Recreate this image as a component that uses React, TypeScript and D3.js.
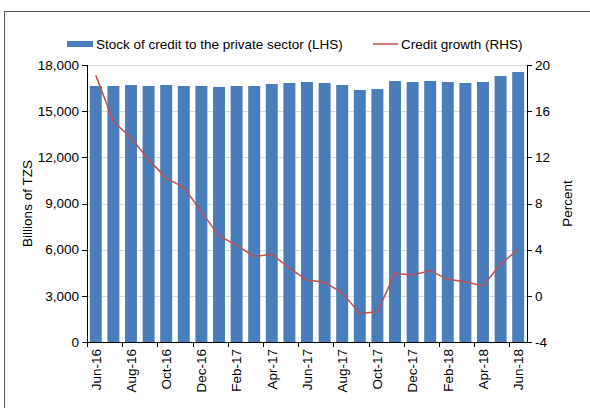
import React from "react";
import * as d3 from "d3";

const months = [
  "Jun-16","Jul-16","Aug-16","Sep-16","Oct-16","Nov-16","Dec-16",
  "Jan-17","Feb-17","Mar-17","Apr-17","May-17","Jun-17","Jul-17","Aug-17","Sep-17","Oct-17","Nov-17","Dec-17",
  "Jan-18","Feb-18","Mar-18","Apr-18","May-18","Jun-18",
];
const creditStock = [
  16635, 16635, 16700, 16635, 16700, 16635, 16635,
  16570, 16635, 16635, 16765, 16830, 16895, 16830, 16700, 16375, 16440, 16960, 16895,
  16960, 16895, 16830, 16895, 17285, 17545,
];
const creditGrowth = [
  19.1, 15.1, 13.7, 11.8, 10.2, 9.4, 7.3,
  5.2, 4.4, 3.4, 3.6, 2.4, 1.37, 1.17, 0.27, -1.52, -1.38, 1.95, 1.8,
  2.18, 1.43, 1.22, 0.85, 2.75, 4.03,
];
const leftTicks = [0, 3000, 6000, 9000, 12000, 15000, 18000];
const rightTicks = [-4, 0, 4, 8, 12, 16, 20];

const W = 590, H = 408;
const L = 87, R = 527, T = 65, B = 342;
const FONT = "'Liberation Sans', Arial, Helvetica, sans-serif";
const FS = 13.5;

export default function App() {
  const x = d3.scaleBand<string>().domain(months).range([L, R]).paddingInner(0.32).paddingOuter(0.16);
  const yL = d3.scaleLinear().domain([0, 18000]).range([B, T]);
  const yR = d3.scaleLinear().domain([-4, 20]).range([B, T]);
  const step = x.step();
  const cx = (m: string) => (x(m) as number) + x.bandwidth() / 2;
  const line = d3.line<number>()
    .x((_, i) => cx(months[i]))
    .y((d) => yR(d));
  const fmt = d3.format(",");
  const xTickIdx = months.map((_, i) => i).filter((i) => i % 2 === 0);

  return (
    <svg width={W} height={H} style={{ position: "absolute", left: 0, top: 0, background: "#fff" }} fontFamily={FONT}>
      <rect x={4.5} y={11.5} width={W + 10} height={H + 10} fill="#fff" stroke="#555" strokeWidth={1} />
      {leftTicks.slice(1).map((t) => (
        <line key={t} x1={L} x2={R} y1={Math.round(yL(t)) + 0.5} y2={Math.round(yL(t)) + 0.5} stroke="#d9d9d9" strokeWidth={1} />
      ))}
      {months.map((m, i) => (
        <rect key={m} x={x(m)} y={yL(creditStock[i])} width={x.bandwidth()} height={B - yL(creditStock[i])} fill="#4A7EBB" />
      ))}
      <path d={line(creditGrowth) || ""} fill="none" stroke="#C0504D" strokeWidth={1.5} />
      <line x1={L + 0.5} x2={L + 0.5} y1={T} y2={B} stroke="#000" />
      {leftTicks.map((t) => (
        <g key={t}>
          <line x1={L - 5} x2={L} y1={Math.round(yL(t)) + 0.5} y2={Math.round(yL(t)) + 0.5} stroke="#000" />
          <text x={L - 8} y={yL(t)} dy="0.35em" textAnchor="end" fontSize={FS} fill="#000">{fmt(t)}</text>
        </g>
      ))}
      <line x1={R + 0.5} x2={R + 0.5} y1={T} y2={B} stroke="#000" />
      {rightTicks.map((t) => (
        <g key={t}>
          <line x1={R} x2={R + 5} y1={Math.round(yR(t)) + 0.5} y2={Math.round(yR(t)) + 0.5} stroke="#000" />
          <text x={R + 8} y={yR(t)} dy="0.35em" textAnchor="start" fontSize={FS} fill="#000">{t}</text>
        </g>
      ))}
      <line x1={L} x2={R + 1} y1={B + 0.5} y2={B + 0.5} stroke="#000" />
      {xTickIdx.map((i) => {
        const xt = Math.round(L + i * step) + 0.5;
        return <line key={"t" + i} x1={xt} x2={xt} y1={B} y2={B + 5} stroke="#000" />;
      })}
      {xTickIdx.map((i) => {
        const m = months[i];
        const px = cx(m);
        return (
          <text key={m} transform={`translate(${px},${B + 7}) rotate(-90)`} dy="0.35em" textAnchor="end" fontSize={FS} fill="#000">{m}</text>
        );
      })}
      <text transform={`translate(27,${(T + B) / 2}) rotate(-90)`} dy="0.35em" textAnchor="middle" fontSize={FS} fill="#000">Billions of TZS</text>
      <text transform={`translate(567,${(T + B) / 2}) rotate(-90)`} dy="0.35em" textAnchor="middle" fontSize={FS} fill="#000">Percent</text>
      <rect x={67} y={41} width={26} height={6} fill="#4A7EBB" />
      <text x={96} y={44} dy="0.35em" fontSize={FS} fill="#000">Stock of credit to the private sector (LHS)</text>
      <line x1={373} x2={398} y1={44} y2={44} stroke="#C0504D" strokeWidth={1.5} />
      <text x={401} y={44} dy="0.35em" fontSize={FS} fill="#000">Credit growth (RHS)</text>
    </svg>
  );
}
